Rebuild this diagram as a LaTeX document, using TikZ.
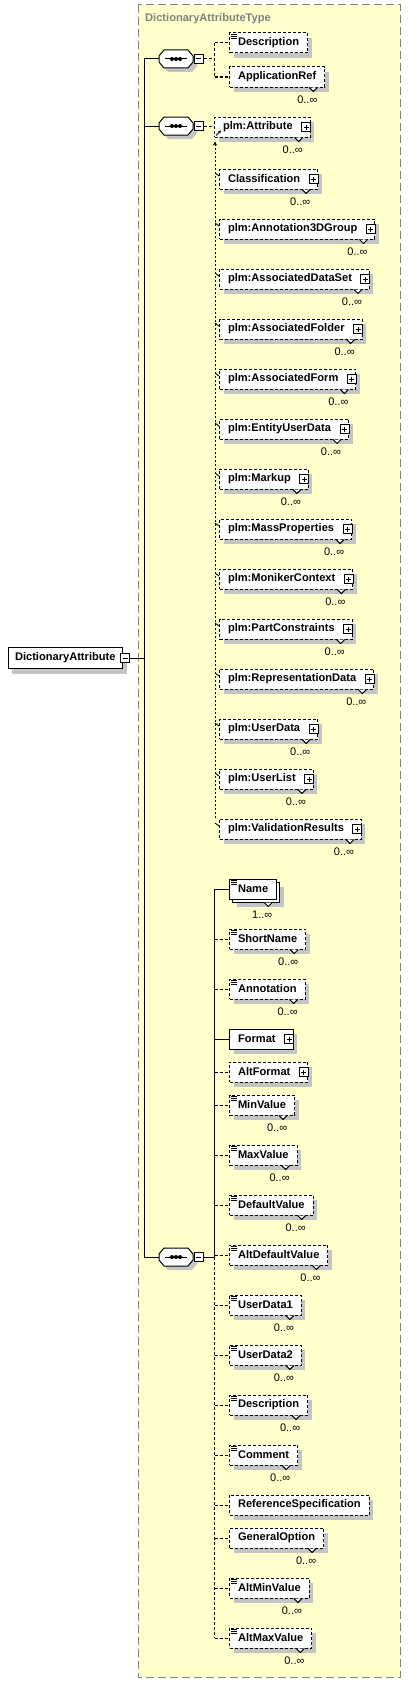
\documentclass[tikz,border=0pt]{standalone}
\usepackage{fontspec}
\setmainfont{Liberation Sans}
\usetikzlibrary{shadows,arrows.meta,calc}
\definecolor{panel}{RGB}{255,255,204}
\definecolor{shad}{RGB}{196,196,196}
\definecolor{hdr}{RGB}{128,128,128}
\newcommand{\elfont}{\fontsize{11.1bp}{13bp}\selectfont\bfseries}
\newcommand{\ocfont}{\fontsize{11bp}{13bp}\selectfont}
\newcommand{\pgap}{\rule{9bp}{0pt}}
\tikzset{
  elbase/.style={draw, fill=white, line width=1bp, anchor=west, minimum height=20bp,
    inner xsep=8.5bp, inner ysep=0bp, font=\elfont},
  elbox/.style={elbase, drop shadow={shadow xshift=4bp, shadow yshift=-5bp, fill=shad, opacity=1}},
  multibox/.style={elbase, drop shadow={shadow xshift=7bp, shadow yshift=-8bp, fill=shad, opacity=1},
    copy shadow={shadow xshift=3bp, shadow yshift=-3bp}},
  opt/.style={dash pattern=on 3bp off 2bp},
  conn/.style={line width=1bp},
  optconn/.style={line width=1bp, dash pattern=on 3bp off 2bp},
  subst/.style={line width=1bp, dash pattern=on 2bp off 2bp},
  sqbox/.style={draw, fill=white, line width=1bp, minimum size=9bp, inner sep=0pt},
  occ/.style={font=\ocfont, inner sep=0pt},
  hdrtext/.style={font=\elfont, text=hdr, anchor=west, inner sep=0pt},
  tickmark/.style={line width=0.9bp}
}
\newcommand{\El}[5]{\node[elbox,#4] (#1) at (#2,#3) {#5};}
\newcommand{\PlusBox}[1]{%
  \node[sqbox] (#1-p) at ($(#1.east)+(-4.5,0)$) {};
  \draw[line width=1bp] ($(#1-p.center)+(-2.5,0)$) -- ($(#1-p.center)+(2.5,0)$)
    ($(#1-p.center)+(0,-2.5)$) -- ($(#1-p.center)+(0,2.5)$);}
\newcommand{\Icon}[1]{%
  \foreach \k in {1.5,3.5,5.5}{\draw[line width=0.9bp] ($(#1.north west)+(2,\k)$) -- ++(5.5,0);}}
\newcommand{\Occ}[2]{%
  \draw[line width=1bp, fill=white] ($(#1.south east)+(-16,0)$) -- ++(4,4) -- ++(4,-4);
  \node[occ] at ($(#1.south east)+(-18,12)$) {#2};}
\newcommand{\Comp}[2]{%
  \node[inner sep=0pt, minimum width=34bp, minimum height=18bp] (#1) at (176,#2) {};
  \fill[shad] ($(#1.center)+(4,4)$) +(-17,-3) -- +(-12,-9) -- +(12,-9) -- +(17,-3)
     -- +(17,3) -- +(12,9) -- +(-12,9) -- +(-17,3) -- cycle;
  \draw[line width=1bp, fill=white] (#1.center) +(-17,-3) -- +(-12,-9) -- +(12,-9) -- +(17,-3)
     -- +(17,3) -- +(12,9) -- +(-12,9) -- +(-17,3) -- cycle;
  \draw[line width=1bp] ($(#1.center)+(-11,0)$) -- ($(#1.center)+(11,0)$);
  \foreach \dx in {-4,0,4}{\fill ($(#1.center)+(\dx,0)$) circle (2bp);}
  \node[sqbox] (#1-m) at ($(#1.center)+(22.5,0)$) {};
  \draw[line width=1bp] ($(#1-m.center)+(-2.5,0)$) -- ($(#1-m.center)+(2.5,0)$);}
\begin{document}
\begin{tikzpicture}[x=1bp, y=-1bp]
\useasboundingbox (0,0) rectangle (407,1682);
\fill[panel] (138,5) rectangle (400,1677);
\draw[hdr, line width=1bp, dash pattern=on 8bp off 4bp] (138,5) rectangle (400,1677);
\node[hdrtext] (title) at (145,19) {DictionaryAttributeType};

% root element
\node[elbox, minimum height=21bp, inner xsep=7bp] (da) at (7.5,658) {DictionaryAttribute};
\node[sqbox] (da-m) at ($(da.east)+(2,0)$) {};
\draw[line width=1bp] ($(da-m.center)+(-2.5,0)$) -- ($(da-m.center)+(2.5,0)$);

% compositors
\Comp{c1}{59}
\Comp{c2}{126}
\Comp{c3}{1257}

% group 1
\El{g1a}{229}{43}{opt}{Description}\Icon{g1a}
\El{g1b}{229}{77}{opt}{ApplicationRef}\Occ{g1b}{0..∞}

% group 2
\El{attr}{214}{127}{opt}{plm:Attribute\pgap}\PlusBox{attr}\Occ{attr}{0..∞}
\draw[line width=1bp, -{Stealth[length=3bp,width=3bp]}] ($(attr.south west)+(2,-2)$) -- ++(5,-5);
\foreach \i/\y/\t in {s1/179/Classification, s2/229/plm:Annotation3DGroup,
  s3/279/plm:AssociatedDataSet, s4/329/plm:AssociatedFolder, s5/379/plm:AssociatedForm,
  s6/429/plm:EntityUserData, s7/479/plm:Markup, s8/529/plm:MassProperties,
  s9/579/plm:MonikerContext, s10/629/plm:PartConstraints, s11/679/plm:RepresentationData,
  s12/729/plm:UserData, s13/779/plm:UserList, s14/829/plm:ValidationResults}{
  \El{\i}{219}{\y}{opt}{\t\pgap}
  \PlusBox{\i}
  \Occ{\i}{0..∞}
  \draw[tickmark] ($(\i.west)+(-4,-6)$) -- ($(\i.west)+(0,-3)$);
}

% group 3
\node[multibox] (name) at (229,889) {Name};
\Icon{name}
\draw[line width=1bp, fill=white] ($(name.south east)+(-13,3)$) -- ++(4,4) -- ++(4,-4);
\node[occ] at ($(name.south east)+(-15,15)$) {1..∞};
\foreach \i/\y/\t in {t2/939/ShortName, t3/989/Annotation, t6/1105/MinValue,
  t7/1155/MaxValue, t8/1205/DefaultValue, t9/1255/AltDefaultValue, t10/1305/UserData1,
  t11/1355/UserData2, t12/1405/Description, t13/1455/Comment, t16/1588/AltMinValue,
  t17/1638/AltMaxValue}{
  \El{\i}{229}{\y}{opt}{\t}
  \Icon{\i}
  \Occ{\i}{0..∞}
}
\El{t4}{229}{1039}{}{Format\pgap}\PlusBox{t4}
\El{t5}{229}{1072}{opt}{AltFormat\pgap}\PlusBox{t5}
\El{t14}{229}{1505}{opt}{ReferenceSpecification}
\El{t15}{229}{1538}{opt}{GeneralOption}\Occ{t15}{0..∞}

% spine
\coordinate (sp) at (144,0);
\draw[conn] (da-m.east) -- (sp |- da-m.east);
\draw[conn] (sp |- c1.west) -- (sp |- c3.west);
\foreach \c in {c1,c2,c3}{\draw[conn] (sp |- \c.west) -- (\c.west);}

% group 1 connectors
\coordinate (g1) at ($(c1-m.east)+(11,0)$);
\draw[optconn] (c1-m.east) -- (g1);
\draw[optconn] (g1 |- g1a.west) -- (g1 |- g1b.west);
\draw[optconn] (g1 |- g1a.west) -- (g1a.west);
\draw[optconn] (g1 |- g1b.west) -- (g1b.west);

% group 2 connectors
\draw[optconn] (c2-m.east) -- (c2-m.east -| attr.west);
\coordinate (subtop) at ($(attr.south west)+(1,4)$);
\draw[subst, {Stealth[length=4bp,width=4bp]}-] (subtop) -- (subtop |- s14.north);

% group 3 connectors
\coordinate (g3) at ($(c3-m.east)+(11,0)$);
\draw[conn] (c3-m.east) -- (g3);
\draw[conn] (g3) -- (g3 |- name.west);
\draw[optconn] (g3) -- (g3 |- t17.west);
\draw[conn] (g3 |- name.west) -- (name.west);
\draw[conn] (g3 |- t4.west) -- (t4.west);
\foreach \i in {t2,t3,t5,t6,t7,t8,t9,t10,t11,t12,t13,t14,t15,t16,t17}{
  \draw[optconn] (g3 |- \i.west) -- (\i.west);}
\end{tikzpicture}
\end{document}
